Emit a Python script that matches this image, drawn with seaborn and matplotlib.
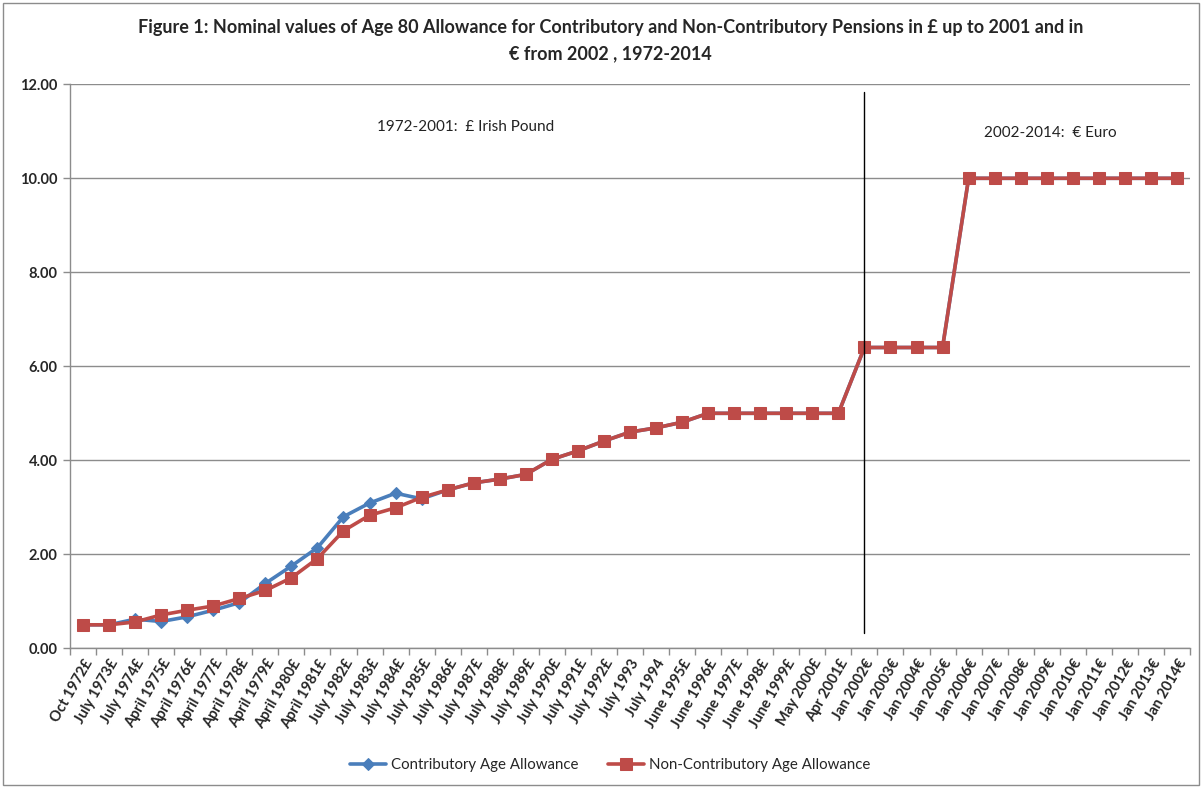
import matplotlib
matplotlib.use("Agg")
import matplotlib.pyplot as plt
from matplotlib.patches import Rectangle
from matplotlib.ticker import FixedLocator, FuncFormatter
import seaborn as sns
import pandas as pd

# Category labels (date the allowance rate took effect)
periods = [
    "Oct 1972£", "July 1973£", "July 1974£", "April 1975£", "April 1976£",
    "April 1977£", "April 1978£", "April 1979£", "April 1980£", "April 1981£",
    "July 1982£", "July 1983£", "July 1984£", "July 1985£", "July 1986£",
    "July 1987£", "July 1988£", "July 1989£", "July 1990£", "July 1991£",
    "July 1992£", "July 1993", "July 1994", "June 1995£", "June 1996£",
    "June 1997£", "June 1998£", "June 1999£", "May 2000£", "Apr 2001£",
    "Jan 2002€", "Jan 2003€", "Jan 2004€", "Jan 2005€", "Jan 2006€",
    "Jan 2007€", "Jan 2008€", "Jan 2009€", "Jan 2010€", "Jan 2011€",
    "Jan 2012€", "Jan 2013€", "Jan 2014€",
]

contributory = [
    0.50, 0.50, 0.62, 0.57, 0.67, 0.81, 0.97, 1.38, 1.75, 2.14,
    2.80, 3.09, 3.30, 3.18, 3.37, 3.52, 3.60, 3.70, 4.02, 4.20,
    4.41, 4.60, 4.69, 4.81, 5.00, 5.00, 5.00, 5.00, 5.00, 5.00,
    6.40, 6.40, 6.40, 6.40, 10.00, 10.00, 10.00, 10.00, 10.00, 10.00,
    10.00, 10.00, 10.00,
]

non_contributory = [
    0.50, 0.50, 0.56, 0.71, 0.81, 0.90, 1.06, 1.23, 1.50, 1.91,
    2.50, 2.83, 2.99, 3.21, 3.37, 3.52, 3.60, 3.70, 4.02, 4.20,
    4.41, 4.60, 4.69, 4.81, 5.00, 5.00, 5.00, 5.00, 5.00, 5.00,
    6.40, 6.40, 6.40, 6.40, 10.00, 10.00, 10.00, 10.00, 10.00, 10.00,
    10.00, 10.00, 10.00,
]

series_names = ["Contributory Age Allowance", "Non-Contributory Age Allowance"]

n = len(periods)
df = pd.DataFrame({
    "pos": list(range(n)) * 2,
    "value": contributory + non_contributory,
    "series": [series_names[0]] * n + [series_names[1]] * n,
})

sns.set_theme(style="white")
plt.rcParams["font.family"] = ["Lato", "DejaVu Sans"]

fig = plt.figure(figsize=(12.02, 7.88), dpi=100)
ax = fig.add_axes([70 / 1202, 1 - 648.3 / 788, 1120 / 1202, (648.3 - 84.3) / 788])

# light chart border
fig.patches.append(Rectangle((3 / 1202, 3 / 788), 1196 / 1202, 782 / 788,
                             transform=fig.transFigure, fill=False,
                             edgecolor="#8c8c8c", linewidth=1.0))

palette = {series_names[0]: "#4A7EBB", series_names[1]: "#BE4B48"}
markers = {series_names[0]: "D", series_names[1]: "s"}
sizes = {series_names[0]: 6.5, series_names[1]: 8.5}

for name in series_names:
    sub = df[df["series"] == name]
    sns.lineplot(data=sub, x="pos", y="value", ax=ax, color=palette[name],
                 marker=markers[name], markersize=sizes[name],
                 markeredgecolor=palette[name], linewidth=2.6, label=name,
                 sort=False, zorder=3 if name == series_names[1] else 2)

ax.set_xlim(-0.5, n - 0.5)
ax.set_ylim(0, 12)
ax.set_xlabel("")
ax.set_ylabel("")

# horizontal gridlines
ax.yaxis.set_major_locator(FixedLocator([0, 2, 4, 6, 8, 10, 12]))
ax.yaxis.set_major_formatter(FuncFormatter(lambda v, p: f"{v:.2f}"))
ax.grid(axis="y", color="#8c8c8c", linewidth=1.0)
ax.grid(axis="x", visible=False)
ax.set_axisbelow(True)

for side in ["top", "right"]:
    ax.spines[side].set_visible(False)
for side in ["left", "bottom"]:
    ax.spines[side].set_color("#8c8c8c")
    ax.spines[side].set_linewidth(1.0)

ax.tick_params(axis="y", which="major", left=True, length=5, width=1,
               color="#8c8c8c", labelsize=10.5, pad=4)
for lbl in ax.get_yticklabels():
    lbl.set_fontweight("bold")

# category labels at centres, tick marks at boundaries
ax.set_xticks(range(n))
ax.set_xticklabels(periods, rotation=60, ha="right", rotation_mode="anchor",
                   fontsize=10.5, fontweight="bold")
ax.tick_params(axis="x", which="major", length=0, pad=6)
ax.set_xticks([i - 0.5 for i in range(n + 1)], minor=True)
ax.tick_params(axis="x", which="minor", bottom=True, length=5, width=1,
               color="#8c8c8c")

# currency changeover marker
ax.plot([30, 30], [0.33, 11.83], color="black", linewidth=1.0, zorder=4)
ax.text(11.3, 11.10, "1972-2001:  £ Irish Pound", fontsize=11,
        va="center", ha="left", color="#222222")
ax.text(34.6, 10.97, "2002-2014:  € Euro", fontsize=11,
        va="center", ha="left", color="#222222")

fig.text(0.508, 1 - 28 / 788,
         "Figure 1: Nominal values of Age 80 Allowance for Contributory and Non-Contributory Pensions in £ up to 2001 and in",
         ha="center", va="center", fontsize=13, fontweight="bold")
fig.text(0.508, 1 - 54 / 788, "€ from 2002 , 1972-2014",
         ha="center", va="center", fontsize=13, fontweight="bold")

leg = ax.legend(loc="center", bbox_to_anchor=(610 / 1202, 1 - 765 / 788),
                bbox_transform=fig.transFigure, ncol=2, frameon=False,
                fontsize=10.8, handlelength=2.4, columnspacing=2.0,
                handletextpad=0.3)

fig.savefig("out.png", dpi=100)
